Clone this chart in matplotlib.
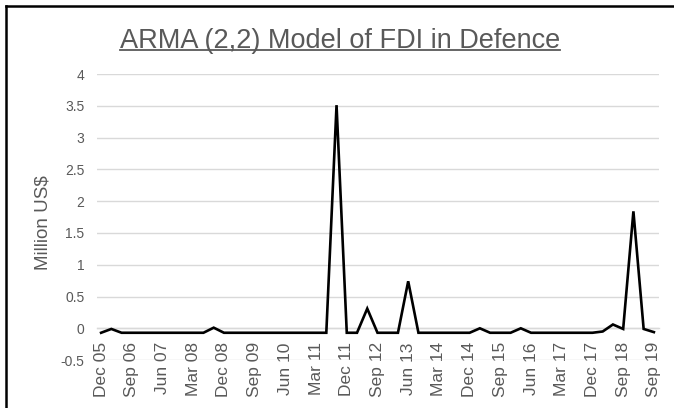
import matplotlib
matplotlib.use("Agg")
import matplotlib.pyplot as plt
from matplotlib.lines import Line2D

plt.rcParams['font.family'] = ['Liberation Sans', 'DejaVu Sans']

title = "ARMA (2,2) Model of FDI in Defence"
ylabel = "Million US$"

tick_labels = ["Dec 05", "Sep 06", "Jun 07", "Mar 08", "Dec 08", "Sep 09", "Jun 10",
               "Mar 11", "Dec 11", "Sep 12", "Jun 13", "Mar 14", "Dec 14", "Sep 15",
               "Jun 16", "Mar 17", "Dec 17", "Sep 18", "Sep 19"]

values = [-0.07, -0.01, -0.07, -0.07, -0.07, -0.07, -0.07, -0.07, -0.07, -0.07,
          -0.07, 0.01, -0.07, -0.07, -0.07, -0.07, -0.07, -0.07, -0.07, -0.07,
          -0.07, -0.07, -0.07, 3.51, -0.07, -0.07, 0.31, -0.07, -0.07, -0.07,
          0.74, -0.07, -0.07, -0.07, -0.07, -0.07, -0.07, 0.0, -0.07, -0.07,
          -0.07, 0.0, -0.07, -0.07, -0.07, -0.07, -0.07, -0.07, -0.07, -0.05,
          0.06, -0.01, 1.84, -0.01, -0.06]

yticks = [-0.5, 0, 0.5, 1, 1.5, 2, 2.5, 3, 3.5, 4]

W, H = 674, 408
fig = plt.figure(figsize=(W / 100, H / 100), dpi=100)
fig.patch.set_facecolor('white')

left, right = 97, 659
top, bottom = 74, 360.1
ax = fig.add_axes([left / W, (H - bottom) / H, (right - left) / W, (bottom - top) / H])

for s in ['top', 'right', 'left']:
    ax.spines[s].set_visible(False)
ax.spines['bottom'].set_position(('data', 0))
ax.spines['bottom'].set_color('#D9D9D9')
ax.spines['bottom'].set_linewidth(1.0)

x = list(range(len(values)))
ax.plot(x, values, color='black', linewidth=1.9, solid_joinstyle='miter', zorder=3)

ax.set_ylim(-0.5, 4)
ax.set_xlim(-0.4, 54.5)
ax.set_yticks(yticks)
ax.set_yticklabels([f"{v:g}" for v in yticks])
ax.yaxis.grid(True, color='#D9D9D9', linewidth=1.0)
ax.set_axisbelow(True)

ax.set_xticks(list(range(0, len(values), 3)))
ax.set_xticklabels(tick_labels)

ax.tick_params(axis='x', length=0, pad=10, labelsize=12.5, labelcolor='#595959',
               labelrotation=90)
ax.tick_params(axis='y', length=0, pad=9, labelsize=10, labelcolor='#595959')
for lab in ax.get_xticklabels():
    lab.set_va('top')
    lab.set_ha('center')

fig.text(43 / W, 1 - 223 / H, ylabel, rotation=90, ha='center', va='center',
         fontsize=13.5, color='#595959')

t = fig.text(340 / W, 1 - 48 / H, title, ha='center', va='baseline',
             fontsize=19.5, color='#595959')
fig.canvas.draw()
bb = t.get_window_extent()
uy = 1 - 50 / H
fig.add_artist(Line2D([bb.x0 / W, bb.x1 / W], [uy, uy], color='#595959', linewidth=1.3))

# chart border (top and left visible)
fig.add_artist(Line2D([6 / W, 1.0], [1 - 5.5 / H, 1 - 5.5 / H], color='black', linewidth=1.8))
fig.add_artist(Line2D([6 / W, 6 / W], [0, 1 - 5.5 / H], color='black', linewidth=1.8))

fig.savefig("out.png", dpi=100)
